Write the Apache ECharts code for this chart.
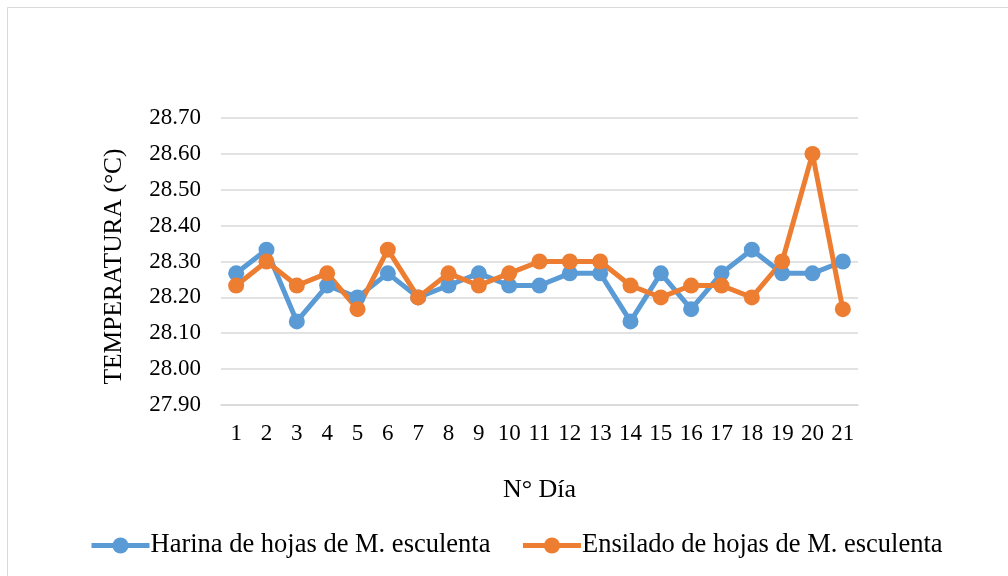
<!DOCTYPE html>
<html>
<head>
<meta charset="utf-8">
<script src="https://cdn.jsdelivr.net/npm/echarts@6/dist/echarts.min.js"></script>
<style>
  html, body { margin: 0; padding: 0; background: #fff; }
  #main { width: 1008px; height: 576px; }
</style>
</head>
<body>
<div id="main"></div>
<script>
// días
const days = ["1", "2", "3", "4", "5", "6", "7", "8", "9", "10", "11",
  "12", "13", "14", "15", "16", "17", "18", "19", "20", "21"];
// Harina de hojas de M. esculenta
const harina = [28.267, 28.333, 28.133, 28.233, 28.2, 28.267, 28.2, 28.233, 28.267, 28.233, 28.233,
  28.267, 28.267, 28.133, 28.267, 28.167, 28.267, 28.333, 28.267, 28.267, 28.3];
// Ensilado de hojas de M. esculenta
const ensilado = [28.233, 28.3, 28.233, 28.267, 28.167, 28.333, 28.2, 28.267, 28.233, 28.267, 28.3,
  28.3, 28.3, 28.233, 28.2, 28.233, 28.233, 28.2, 28.3, 28.6, 28.167];

const font = "Liberation Serif";
const chart = echarts.init(document.getElementById("main"));

function lineSeries(name, data, color) {
  return {
    name: name,
    type: "line",
    data: data,
    symbol: "circle",
    symbolSize: 16,
    lineStyle: { width: 5, color: color },
    itemStyle: { color: color },
  };
}

chart.setOption({
  animation: false,
  textStyle: { fontFamily: font },
  color: ["#5b9bd5", "#ed7d31"],
  graphic: [
    {
      type: "rect",
      shape: { x: 7.5, y: 7.5, width: 1020, height: 600 },
      style: { fill: "none", stroke: "#d9d9d9", lineWidth: 1 },
    },
  ],
  grid: { left: 221, right: 150, top: 118, bottom: 171 },
  legend: {
    bottom: 12,
    left: 84,
    itemWidth: 58,
    itemHeight: 20,
    itemGap: 30,
    lineStyle: { width: 5 },
    textStyle: { fontFamily: font, fontSize: 26.5, color: "#000", padding: [0, 0, 0, -4] },
    data: ["Harina de hojas de M. esculenta", "Ensilado de hojas de M. esculenta"],
  },
  xAxis: {
    type: "category",
    data: days,
    boundaryGap: true,
    name: "N° Día",
    nameLocation: "middle",
    nameGap: 72,
    nameTextStyle: { fontFamily: font, fontSize: 26, color: "#000" },
    axisLine: { show: true, lineStyle: { color: "#d9d9d9", width: 1.5 } },
    axisTick: { show: false },
    axisLabel: { fontFamily: font, fontSize: 23, color: "#000", margin: 17, interval: 0 },
  },
  yAxis: {
    type: "value",
    min: 27.9,
    max: 28.7,
    interval: 0.1,
    name: "TEMPERATURA (°C)",
    nameLocation: "middle",
    nameGap: 94,
    nameTextStyle: { fontFamily: font, fontSize: 25.5, color: "#000", padding: [0, 10, 0, 0] },
    axisLine: { show: false },
    axisTick: { show: false },
    splitLine: { lineStyle: { color: "#d9d9d9", width: 1.5 } },
    axisLabel: {
      fontFamily: font,
      fontSize: 23,
      color: "#000",
      margin: 20,
      formatter: (v) => v.toFixed(2),
    },
  },
  series: [
    lineSeries("Harina de hojas de M. esculenta", harina, "#5b9bd5"),
    lineSeries("Ensilado de hojas de M. esculenta", ensilado, "#ed7d31"),
  ],
});
</script>
</body>
</html>
